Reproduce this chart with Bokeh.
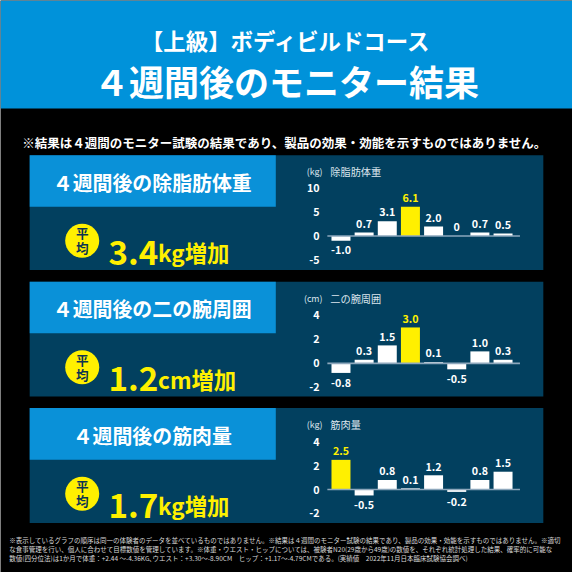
from bokeh.plotting import figure
from bokeh.models import Range1d, ColumnDataSource
from bokeh.core.properties import value
from bokeh.embed import file_html
from bokeh.resources import INLINE

# chart values
bar_ids = [0, 1, 2, 3, 4, 5, 6, 7]
fat_free_mass = [-1.0, 0.7, 3.1, 6.1, 2.0, 0, 0.7, 0.5]
upper_arm = [-0.8, 0.3, 1.5, 3.0, 0.1, -0.5, 1.0, 0.3]
muscle_mass = [2.5, -0.5, 0.8, 0.1, 1.2, -0.2, 0.8, 1.5]
fat_free_ticks = [10, 5, 0, -5]
upper_arm_ticks = [4, 2, 0, -2]
muscle_ticks = [4, 2, 0, -2]
best_bar = [3, 3, 0]

panel_titles = ["４週間後の除脂肪体重", "４週間後の二の腕周囲", "４週間後の筋肉量"]
averages = ["3.4", "1.2", "1.7"]
average_units = ["kg増加", "cm増加", "kg増加"]
chart_titles = ["除脂肪体重", "二の腕周囲", "筋肉量"]
chart_units = ["(kg)", "(cm)", "(kg)"]

title_1 = "【上級】ボディビルドコース"
title_2 = "４週間後のモニター結果"
note = "※結果は４週間のモニター試験の結果であり、製品の効果・効能を示すものではありません。"
footer = [
    "※表示しているグラフの順序は同一の体験者のデータを並べているものではありません。※結果は４週間のモニター試験の結果であり、製品の効果・効能を示すものではありません。※適切",
    "な食事管理を行い、個人に合わせて目標数値を管理しています。※体重・ウエスト・ヒップについては、被験者N20(29歳から49歳)の数値を、それぞれ統計処理した結果、確率的に可能な",
    "数値(四分位法)は1か月で体重：+2.44 ～-4.36KG､ウエスト：+3.30～-8.90CM　ヒップ：+1.17～-4.79CMである。(実績値　2022年11月日本臨床試験協会調べ)",
]

FONT = "Noto Sans CJK JP"
BLUE = "#0a91d8"
NAVY = "#02405f"
YELLOW = "#fff000"
SIZE = 572
S = SIZE / 588  # design is 588px, page leaves 8px margin

def px(size):
    return f"{size * S:.1f}px"

def label(p, x, y, text, size, color="white", align="center", baseline="middle", bold=True):
    p.text(x=[x], y=[y], text=[text], text_font=value(FONT), text_font_size=px(size),
           text_color=color, text_align=align, text_baseline=baseline,
           text_font_style="bold" if bold else "normal")

def add_panel(p, n, top, values, ticks, zero_y, scale):
    # left side: blue header + average
    p.quad(left=30, right=558, top=top, bottom=top + 118, fill_color=NAVY, line_color=None)
    p.quad(left=30, right=283, top=top, bottom=top + 53, fill_color=BLUE, line_color=None)
    label(p, 156, top + 28, panel_titles[n], 20.5)
    p.circle(x=[84], y=[top + 88], radius=17.5, fill_color=YELLOW, line_color=None)
    label(p, 84, top + 80, "平", 13, color="#0b3352")
    label(p, 84, top + 95, "均", 13, color="#0b3352")
    label(p, 111, top + 100, averages[n], 34, color=YELLOW, align="left", baseline="alphabetic")
    label(p, 162, top + 100, average_units[n], 23, color=YELLOW, align="left", baseline="alphabetic")

    # right side: bar chart on its own scale
    name = f"panel{n}"
    p.extra_y_ranges[name] = Range1d((zero_y - 588) / scale, zero_y / scale)
    label(p, 331, top + 17, chart_units[n], 9, color="#dde6ee", align="right", bold=False)
    label(p, 339, top + 17, chart_titles[n], 10.5, color="#dde6ee", align="left", bold=False)

    colors = [YELLOW if i == best_bar[n] else "white" for i in bar_ids]
    texts = ["0" if v == 0 else f"{v:.1f}" for v in values]
    offsets = [-9 * S if v >= 0 else 10 * S for v in values]
    src = ColumnDataSource(dict(x=bar_ids, top=values, color=colors, text=texts, off=offsets))
    p.vbar(x="x", top="top", bottom=0, width=0.82, source=src, fill_color="color",
           line_color=None, x_range_name="bars", y_range_name=name)
    p.segment(x0=[336], x1=[534], y0=[0], y1=[0], line_color="#8da7bc", line_width=1.6 * S,
              y_range_name=name)
    p.text(x="x", y="top", text="text", source=src, y_offset="off", text_color="color",
           text_font=value(FONT), text_font_size=px(11), text_font_style="bold",
           text_align="center", text_baseline="middle", x_range_name="bars", y_range_name=name)
    p.text(x=[328] * len(ticks), y=ticks, text=[str(t) for t in ticks], text_color="white",
           text_font=value(FONT), text_font_size=px(11), text_font_style="bold",
           text_align="right", text_baseline="middle", y_range_name=name)

def main():
    p = figure(width=SIZE, height=SIZE, x_range=Range1d(0, 588), y_range=Range1d(588, 0),
               x_axis_type=None, y_axis_type=None, output_backend="svg",
               toolbar_location=None, min_border=0)
    p.background_fill_color = "black"
    p.border_fill_color = "black"
    p.outline_line_color = None

    # bar index scale shared by the three charts
    x0, step = 350, 23.8
    p.extra_x_ranges["bars"] = Range1d(-x0 / step, (588 - x0) / step)

    p.quad(left=0, right=588, top=0, bottom=111, fill_color="#0092da", line_color=None)
    label(p, 294, 41, title_1, 23)
    label(p, 294, 82, title_2, 36)
    label(p, 292, 146, note, 12.8)

    add_panel(p, 0, 159, fat_free_mass, fat_free_ticks, 242, 4.9)
    add_panel(p, 1, 289, upper_arm, upper_arm_ticks, 373, 12.3)
    add_panel(p, 2, 419, muscle_mass, muscle_ticks, 502.7, 12.2)

    for i, line in enumerate(footer):
        label(p, 9, 555 + 9 * i, line, 6.7, color="#d9d9d9", align="left", bold=False)

    open("out.html", "w").write(file_html(p, INLINE))

if __name__ == '__main__':
    main()
